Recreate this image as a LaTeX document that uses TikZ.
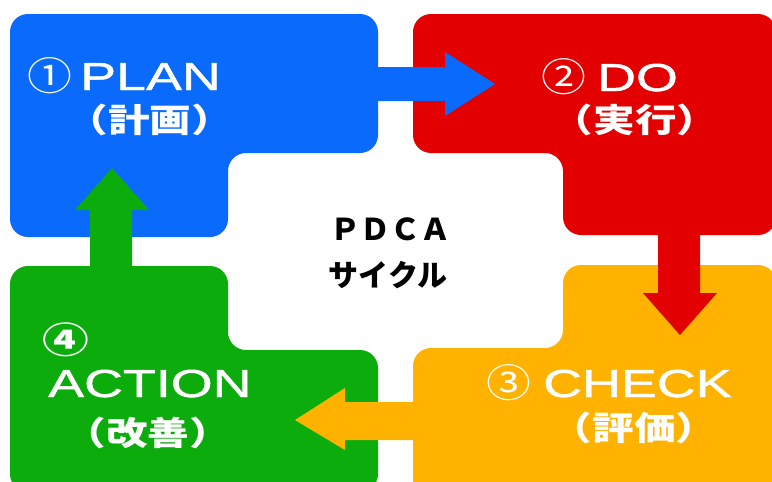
\documentclass[tikz,border=0pt]{standalone}
\usepackage{fontspec}
\setmainfont{Liberation Sans}
\newfontfamily\latwide{Liberation Sans}[FakeStretch=1.38,FakeBold=1.2]
\newfontfamily\jp{Noto Sans CJK JP}
\newfontfamily\jpwide{Noto Sans CJK JP}[FakeStretch=1.26]
\newfontfamily\jpnum{Noto Sans CJK JP}[FakeStretch=1.15]
\newfontfamily\jpnumw{Noto Sans CJK JP}[FakeStretch=1.3]
\definecolor{pblue}{RGB}{10,106,252}
\definecolor{pred}{RGB}{226,0,0}
\definecolor{pyellow}{RGB}{255,178,0}
\definecolor{pgreen}{RGB}{12,172,12}
\tikzset{
  block/.style={rounded corners=18pt},
  latlbl/.style={text=white, inner sep=0pt, anchor=base west, font=\latwide\fontsize{39}{42}\selectfont},
  numlbl/.style={text=white, inner sep=0pt, font=\jpnum\fontsize{39}{42}\selectfont},
  numlblbold/.style={text=white, inner sep=0pt, font=\jpnumw\bfseries\fontsize{36}{40}\selectfont},
  jplbl/.style={text=white, inner sep=0pt, font=\jpwide\bfseries\fontsize{33}{36}\selectfont},
  midlbl/.style={text=black, inner sep=0pt, font=\jp\bfseries\fontsize{30}{34}\selectfont},
}
\begin{document}
\begin{tikzpicture}[x=1pt,y=-1pt]
\useasboundingbox (0,0) rectangle (772,482);
\clip (0,0) rectangle (772,482);
\fill[white] (0,0) rectangle (772,482);
% blocks
\fill[pblue, block] (10,14) -- (378,14) -- (378,153) -- (228,153) -- (228,237) -- (10,237) -- cycle;
\fill[pred, block] (413,14) -- (776,14) -- (776,235) -- (563,235) -- (563,153) -- (413,153) -- cycle;
\fill[pyellow, block] (563,265) -- (776,265) -- (776,500) -- (413,500) -- (413,348) -- (563,348) -- cycle;
\fill[pgreen, block] (10,266) -- (228,266) -- (228,350) -- (378,350) -- (378,492) -- (10,492) -- cycle;
% block arrows
\fill[pblue] (370,67) -- (445,67) -- (445,52) -- (495,84) -- (445,116) -- (445,101) -- (370,101) -- cycle;
\fill[pred] (658,225) -- (658,293) -- (643,293) -- (680,335) -- (717,293) -- (700,293) -- (700,225) -- cycle;
\fill[pyellow] (420,402) -- (345,402) -- (345,388) -- (295,420) -- (345,450) -- (345,440) -- (420,440) -- cycle;
\fill[pgreen] (90,275) -- (90,210) -- (75,210) -- (112,168) -- (149,210) -- (132,210) -- (132,275) -- cycle;
% labels
\node[numlbl] (n1) at (50,76) {①};
\node[latlbl] (plan) at (80,90) {PLAN};
\node[jplbl] (plj) at (150,120) {（計画）};
\node[numlbl] (n2) at (564,77) {②};
\node[latlbl] (do) at (597,91) {DO};
\node[jplbl] (doj) at (635,120) {（実行）};
\node[numlbl] (n3) at (509,383) {③};
\node[latlbl] (check) at (543,397) {CHECK};
\node[jplbl] (chj) at (634,428) {（評価）};
\node[numlblbold] (n4) at (66,340) {④};
\node[latlbl] (action) at (48,397) {ACTION};
\node[jplbl] (acj) at (148,433) {（改善）};
\node[midlbl] (pdca) at (390,229) {ＰＤＣＡ};
\node[midlbl] (cyc) at (388,275) {サイクル};
\end{tikzpicture}
\end{document}
